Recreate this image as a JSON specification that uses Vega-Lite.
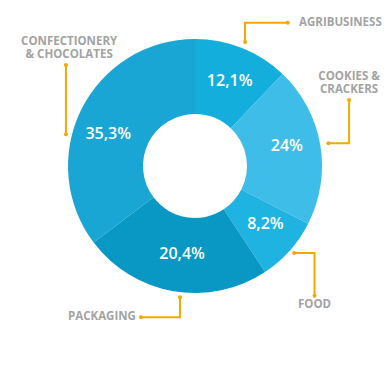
{
  "$schema": "https://vega.github.io/schema/vega-lite/v6.json",
  "width": 390,
  "height": 332,
  "padding": 0,
  "autosize": {"type": "none"},
  "background": "white",
  "config": {"view": {"stroke": null}},
  "datasets": {
    "slices": [
      {"segment": "Agribusiness", "idx": 1, "share": 12.1, "pct": "12,1%", "u": 27.3, "v": 66.9},
      {"segment": "Cookies & Crackers", "idx": 2, "share": 20.4, "pct": "24%", "u": 72.3, "v": 15.7},
      {"segment": "Food", "idx": 3, "share": 8.2, "pct": "8,2%", "u": 55.4, "v": -45.9},
      {"segment": "Packaging", "idx": 4, "share": 24.0, "pct": "20,4%", "u": -10.2, "v": -69.5},
      {"segment": "Confectionery & Chocolates", "idx": 5, "share": 35.3, "pct": "35,3%", "u": -68.3, "v": 25.0}
    ],
    "leaders": [
      {"leader": "Agribusiness", "step": 1, "u": 39.4, "v": 97.6},
      {"leader": "Agribusiness", "step": 2, "u": 39.4, "v": 112.8},
      {"leader": "Agribusiness", "step": 3, "u": 73.0, "v": 112.8},
      {"leader": "Cookies & Crackers", "step": 1, "u": 121.3, "v": 52.0},
      {"leader": "Cookies & Crackers", "step": 2, "u": 121.3, "v": 17.9},
      {"leader": "Cookies & Crackers", "step": 3, "u": 105.0, "v": 17.9},
      {"leader": "Food", "step": 1, "u": 78.0, "v": -68.5},
      {"leader": "Food", "step": 2, "u": 94.1, "v": -68.5},
      {"leader": "Food", "step": 3, "u": 94.1, "v": -102.1},
      {"leader": "Packaging", "step": 1, "u": -11.8, "v": -103.4},
      {"leader": "Packaging", "step": 2, "u": -11.8, "v": -119.1},
      {"leader": "Packaging", "step": 3, "u": -42.5, "v": -119.1},
      {"leader": "Confectionery & Chocolates", "step": 1, "u": -101.6, "v": 79.5},
      {"leader": "Confectionery & Chocolates", "step": 3, "u": -101.6, "v": 25.0}
    ],
    "names": [
      {"name": "AGRIBUSINESS", "u": 81.9, "v": 112.6},
      {"name": "COOKIES &\nCRACKERS", "u": 121.3, "v": 69.8},
      {"name": "FOOD", "u": 94.1, "v": -109.4},
      {"name": "PACKAGING", "u": -46.5, "v": -119.1},
      {"name": "CONFECTIONERY\n& CHOCOLATES", "u": -99.1, "v": 97.9}
    ]
  },
  "layer": [
    {
      "data": {"name": "slices"},
      "mark": {"type": "arc", "outerRadius": 127, "innerRadius": 52},
      "encoding": {
        "theta": {"field": "share", "type": "quantitative", "stack": true},
        "order": {"field": "idx", "type": "quantitative"},
        "color": {
          "field": "segment",
          "type": "nominal",
          "legend": null,
          "scale": {
            "domain": ["Agribusiness", "Cookies & Crackers", "Food", "Packaging", "Confectionery & Chocolates"],
            "range": ["#14aedd", "#3fbde9", "#1fb3e2", "#0898c3", "#1aa6d5"]
          }
        }
      }
    },
    {
      "data": {"name": "slices"},
      "mark": {"type": "text", "color": "white", "font": "Open Sans", "fontWeight": 600, "fontSize": 16, "align": "center", "baseline": "middle"},
      "encoding": {
        "x": {"field": "u", "type": "quantitative", "scale": {"domain": [-153.5, 153.5], "nice": false, "zero": false}, "axis": null},
        "y": {"field": "v", "type": "quantitative", "scale": {"domain": [-130.7, 130.7], "nice": false, "zero": false}, "axis": null},
        "text": {"field": "pct"}
      }
    },
    {
      "data": {"name": "leaders"},
      "mark": {"type": "line", "color": "#f6a700", "strokeWidth": 2, "interpolate": "linear"},
      "encoding": {
        "x": {"field": "u", "type": "quantitative"},
        "y": {"field": "v", "type": "quantitative"},
        "detail": {"field": "leader"},
        "order": {"field": "step", "type": "quantitative"}
      }
    },
    {
      "data": {"name": "leaders"},
      "transform": [{"filter": "datum.step != 2"}],
      "mark": {"type": "point", "filled": true, "color": "#f6a700", "size": 16, "opacity": 1},
      "encoding": {
        "x": {"field": "u", "type": "quantitative"},
        "y": {"field": "v", "type": "quantitative"}
      }
    },
    {
      "data": {"name": "names"},
      "transform": [{"filter": "datum.name == 'AGRIBUSINESS'"}],
      "mark": {"type": "text", "color": "#a3a3a3", "font": "Open Sans", "fontWeight": 700, "fontSize": 11.5, "align": "left", "baseline": "middle"},
      "encoding": {
        "x": {"field": "u", "type": "quantitative"},
        "y": {"field": "v", "type": "quantitative"},
        "text": {"field": "name"}
      }
    },
    {
      "data": {"name": "names"},
      "transform": [{"filter": "datum.name == 'PACKAGING'"}],
      "mark": {"type": "text", "color": "#a3a3a3", "font": "Open Sans", "fontWeight": 700, "fontSize": 11.5, "align": "right", "baseline": "middle"},
      "encoding": {
        "x": {"field": "u", "type": "quantitative"},
        "y": {"field": "v", "type": "quantitative"},
        "text": {"field": "name"}
      }
    },
    {
      "data": {"name": "names"},
      "transform": [{"filter": "datum.name != 'AGRIBUSINESS' && datum.name != 'PACKAGING'"}],
      "mark": {"type": "text", "color": "#a3a3a3", "font": "Open Sans", "fontWeight": 700, "fontSize": 11.5, "align": "center", "baseline": "middle", "lineBreak": "\n", "lineHeight": 13},
      "encoding": {
        "x": {"field": "u", "type": "quantitative"},
        "y": {"field": "v", "type": "quantitative"},
        "text": {"field": "name"}
      }
    }
  ]
}
